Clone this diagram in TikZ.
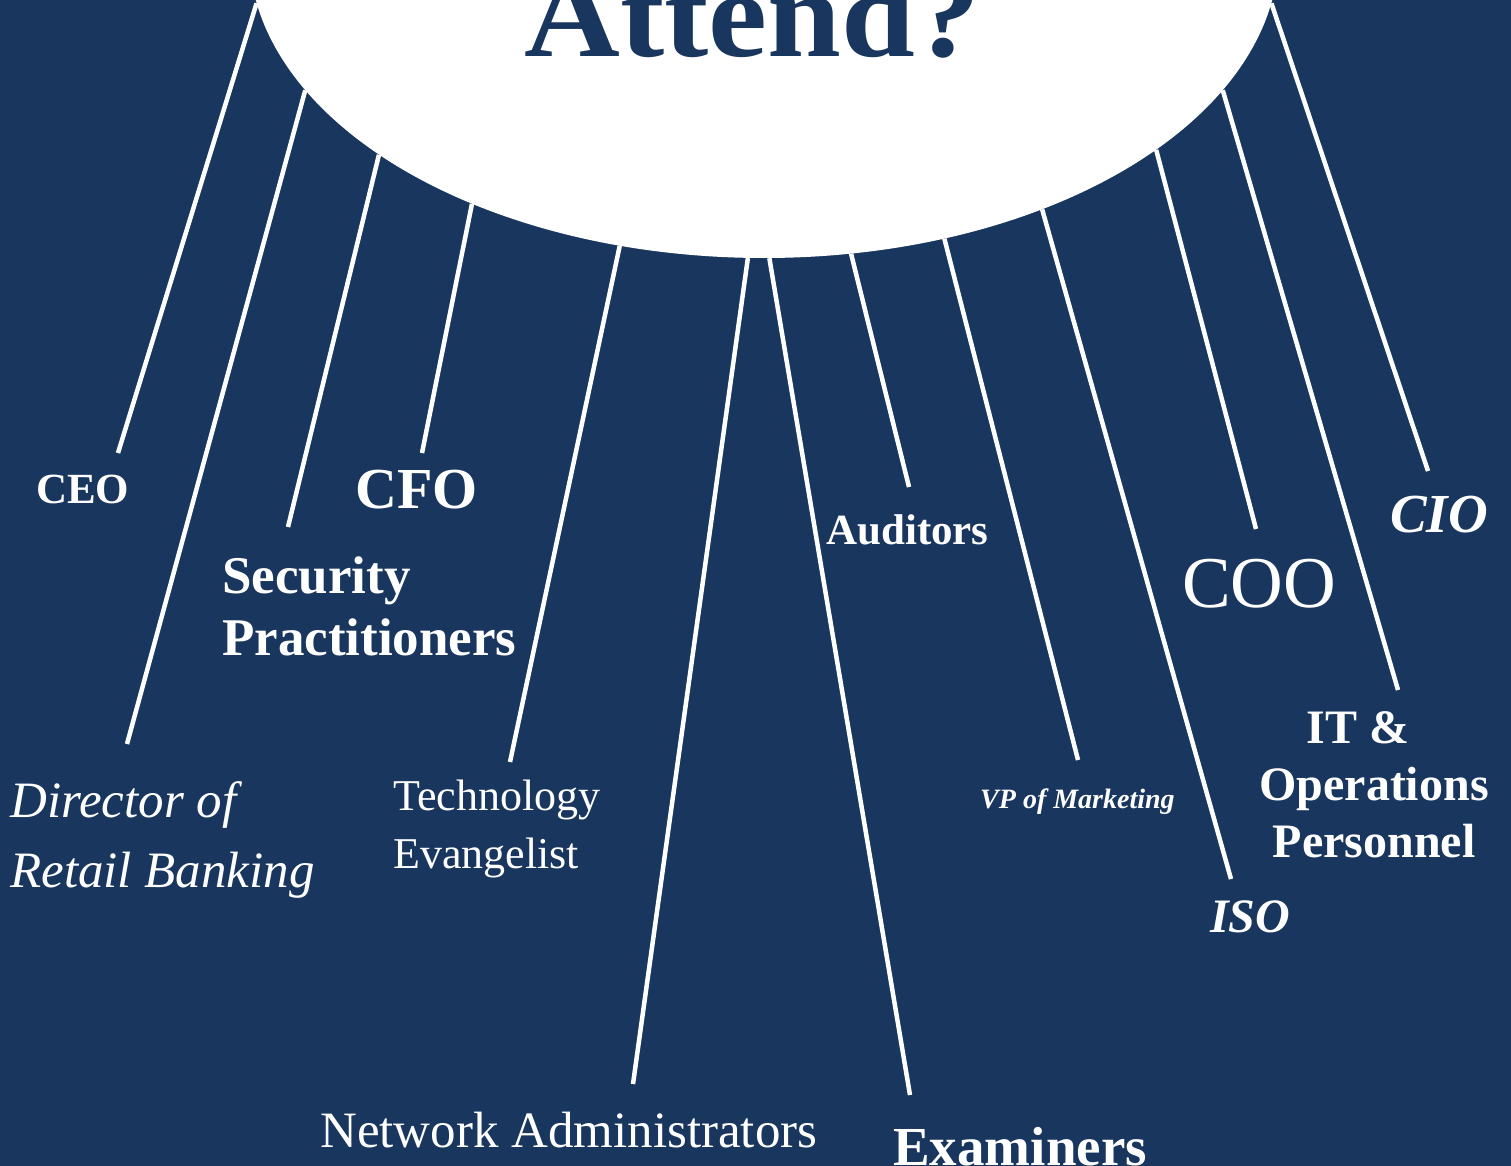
\documentclass[tikz,border=0pt]{standalone}
\usepackage{fontspec}
\setmainfont{Liberation Serif}
\usetikzlibrary{shapes.geometric}
\definecolor{navy}{HTML}{19365E}
\newcommand{\fsz}[2]{\fontsize{#1}{#2}\selectfont}

\begin{document}
\begin{tikzpicture}[x=1pt, y=-1pt,
    lbl/.style={text=white, inner sep=0pt, anchor=base west},
    spoke/.style={draw=white, line width=4.5pt}]
  \useasboundingbox (0,0) rectangle (1511,1166);
  \fill[navy] (0,0) rectangle (1511,1166);

  % the big white bubble at the top
  \node[ellipse, fill=white, inner sep=0pt, minimum width=1030pt, minimum height=616pt] (hub) at (764,-50) {};
  \node[text=navy, inner sep=0pt, anchor=base west, font=\fsz{124}{124}\bfseries, xscale=1.07, transform shape] (title) at (524,57) {Attend?};

  % labels (multi-line ones sit on their last line)
  \node[lbl, font=\fsz{43}{52}\bfseries] (ceo) at (36,503) {CEO};
  \node[lbl, font=\fsz{58}{60}\bfseries] (cfo) at (355,508) {CFO};
  \node[lbl, align=left, font=\fsz{53}{62}\bfseries] (sec) at (222,655) {Security\\Practitioners};
  \node[lbl, align=left, font=\fsz{51}{70}\itshape] (dir) at (10,887) {Director of\\Retail Banking};
  \node[lbl, align=left, font=\fsz{44}{58}] (tech) at (393,868) {Technology\\Evangelist};
  \node[lbl, font=\fsz{51}{60}] (net) at (320,1147) {Network Administrators};
  \node[lbl, font=\fsz{55}{60}\bfseries] (exam) at (893,1165) {Examiners};
  \node[lbl, font=\fsz{43}{52}\bfseries] (aud) at (826,544) {Auditors};
  \node[lbl, font=\fsz{28}{34}\bfseries\itshape] (vp) at (980,808) {VP of Marketing};
  \node[lbl, font=\fsz{48}{56}\bfseries\itshape] (iso) at (1210,932) {ISO};
  \node[lbl, font=\fsz{73}{80}] (coo) at (1182,607) {COO};
  \node[lbl, anchor=base, align=center, font=\fsz{48}{57}\bfseries] (itops) at (1374,857) {IT \&\hspace*{32pt}\\Operations\\Personnel};
  \node[lbl, font=\fsz{55}{60}\bfseries\itshape] (cio) at (1390,532) {CIO};

  % free ends of the spokes
  \coordinate (ceoEnd) at (118,453);
  \coordinate (dirEnd) at (127,744);
  \coordinate (secEnd) at (288,527);
  \coordinate (cfoEnd) at (422,453);
  \coordinate (techEnd) at (510,762);
  \coordinate (netEnd) at (633,1084);
  \coordinate (examEnd) at (910,1095);
  \coordinate (audEnd) at (909,487);
  \coordinate (vpEnd) at (1078,760);
  \coordinate (isoEnd) at (1231,879);
  \coordinate (cooEnd) at (1256,529);
  \coordinate (itEnd) at (1398,690);
  \coordinate (cioEnd) at (1428,471);

  % spokes
  \draw[spoke] (hub.186) -- (ceoEnd);
  \draw[spoke] (hub.197) -- (dirEnd);
  \draw[spoke] (hub.208) -- (secEnd);
  \draw[spoke] (hub.221) -- (cfoEnd);
  \draw[spoke] (hub.244) -- (techEnd);
  \draw[spoke] (hub.267) -- (netEnd);
  \draw[spoke] (hub.271) -- (examEnd);
  \draw[spoke] (hub.286) -- (audEnd);
  \draw[spoke] (hub.302) -- (vpEnd);
  \draw[spoke] (hub.317) -- (isoEnd);
  \draw[spoke] (hub.333) -- (cooEnd);
  \draw[spoke] (hub.343) -- (itEnd);
  \draw[spoke] (hub.354) -- (cioEnd);
\end{tikzpicture}
\end{document}
